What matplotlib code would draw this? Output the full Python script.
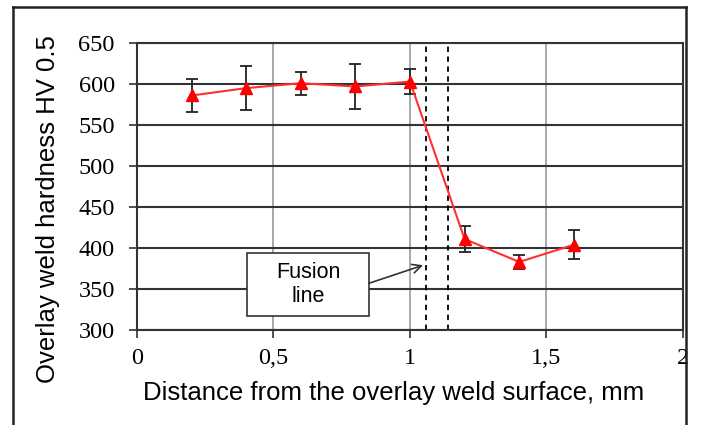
"""Overlay weld hardness profile."""

import matplotlib.pyplot as plt
from matplotlib.lines import Line2D
from matplotlib.patches import Rectangle

distance = [0.2, 0.4, 0.6, 0.8, 1.0, 1.2, 1.4, 1.6]
hardness = [586, 595, 601, 597, 603, 411, 383, 404]
error = [20, 27, 14, 27, 15, 16, 9, 18]
fusion_x = [1.06, 1.14]

x_ticks = [0, 0.5, 1, 1.5, 2]
x_labels = ["0", "0,5", "1", "1,5", "2"]
y_ticks = list(range(300, 651, 50))

fig = plt.figure(figsize=(7.01, 4.25), dpi=100)
ax = fig.add_axes([0.1954, 0.2235, 0.7789, 0.6753])

# outer frame of the figure
for xs, ys in [([0.0185, 0.0185], [0.0, 0.9835]),
               ([0.0185, 0.979], [0.9835, 0.9835]),
               ([0.979, 0.979], [0.9835, 0.0])]:
    fig.add_artist(Line2D(xs, ys, transform=fig.transFigure, color="#222222", lw=1.8))

ax.set_xlim(0, 2)
ax.set_ylim(300, 650)
ax.set_xticks(x_ticks)
ax.set_xticklabels(x_labels)
ax.set_yticks(y_ticks)

for lbl in ax.get_xticklabels() + ax.get_yticklabels():
    lbl.set_fontfamily("Liberation Serif")
    lbl.set_fontsize(17.5)

ax.grid(axis="x", color="#999999", lw=1.2)
ax.grid(axis="y", color="#333333", lw=1.5)
ax.set_axisbelow(True)
for s in ax.spines.values():
    s.set_color("#333333")
    s.set_linewidth(1.5)
ax.tick_params(direction="out", length=6, width=1.2, color="#333333")
ax.tick_params(axis="x", pad=7)
ax.tick_params(axis="y", pad=10)

for fx in fusion_x:
    ax.axvline(fx, color="black", ls=(0, (3, 2.5)), lw=1.3)

ax.errorbar(distance, hardness, yerr=error, color="#ff3030", lw=1.5,
            marker="^", ms=8, mfc="red", mec="red",
            ecolor="#222222", elinewidth=1.3, capsize=4, capthick=1.3, zorder=3)

# "Fusion line" callout
ax.add_patch(Rectangle((0.403, 317), 0.447, 77, fc="white", ec="#333333",
                       lw=1.2, zorder=4))
ax.text(0.6265, 355.5, "Fusion\nline", ha="center", va="center",
        fontsize=15.5, family="Liberation Sans", linespacing=1.2, zorder=5)
ax.annotate("", xy=(1.048, 379), xytext=(0.85, 357),
            arrowprops=dict(arrowstyle="->", color="#333333", lw=1.2,
                            shrinkA=0, shrinkB=0, mutation_scale=16), zorder=5)

ax.set_xlabel("Distance from the overlay weld surface, mm",
              family="Liberation Sans", fontsize=18.5)
ax.set_ylabel("Overlay weld hardness HV 0.5",
              family="Liberation Sans", fontsize=18.5)
ax.xaxis.set_label_coords(0.4707, -0.178)
ax.yaxis.set_label_coords(-0.141, 0.4216)

fig.savefig("out.png", dpi=100)
